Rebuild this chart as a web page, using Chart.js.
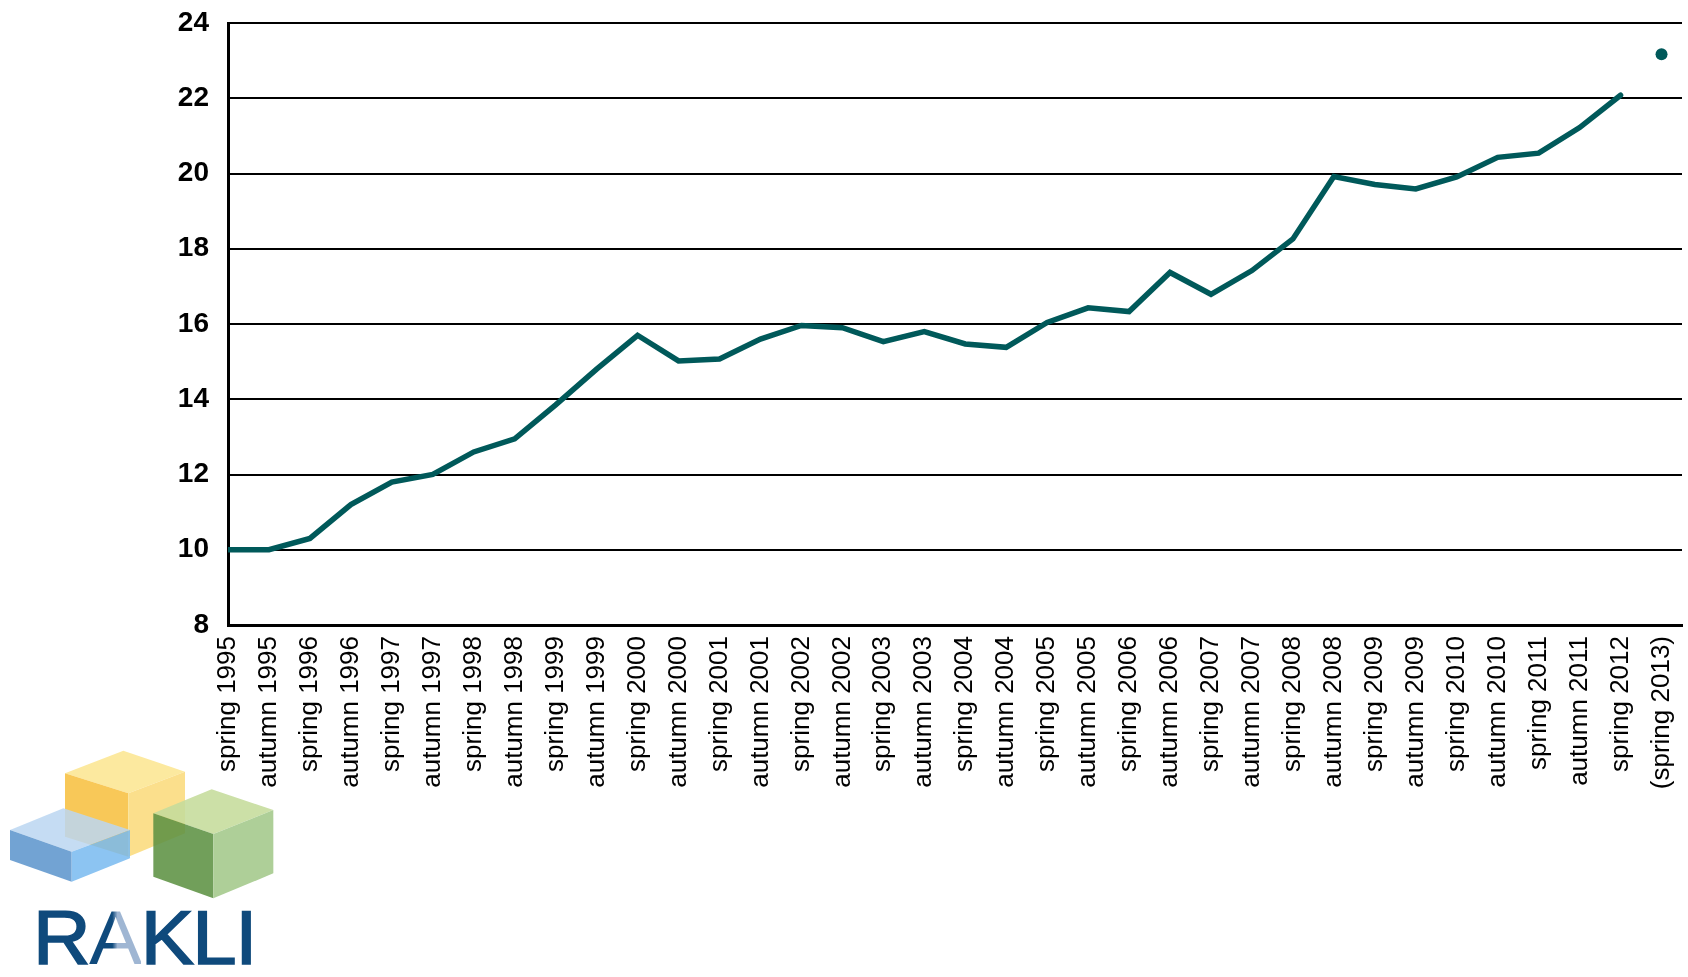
<!DOCTYPE html>
<html>
<head>
<meta charset="utf-8">
<script src="https://cdn.jsdelivr.net/npm/chart.js@4/dist/chart.umd.min.js"></script>
<style>
  html, body { margin: 0; padding: 0; background: #fff; }
  #wrap { position: relative; width: 1688px; height: 977px; overflow: hidden; }
  #logo { position: absolute; left: 0; top: 730px; width: 290px; height: 247px; z-index: 0; }
  #logoText { position: absolute; left: 33px; top: 900px; font-family: "Liberation Sans", Arial, sans-serif; font-size: 76px; line-height: 1; color: #0f4a7c; -webkit-text-stroke: 1.6px #0f4a7c; letter-spacing: -1.5px; transform: scaleX(1.05); transform-origin: left top; z-index: 0; }
  #logoText .a { background: linear-gradient(90deg, #0f4a7c 0%, #0f4a7c 45%, #9fb6d3 55%, #9fb6d3 100%); -webkit-background-clip: text; background-clip: text; color: transparent; -webkit-text-stroke: 0; }
  #c { position: absolute; left: 0; top: 0; z-index: 1; }
</style>
</head>
<body>
<div id="wrap">
  <svg id="logo" viewBox="0 0 870 741" xmlns="http://www.w3.org/2000/svg">
    <g opacity="0.95">
      <polygon points="195,130 370,62 555,125 385,190" fill="#fce89a"/>
      <polygon points="195,130 385,190 385,380 195,320" fill="#f8c650"/>
      <polygon points="385,190 555,125 555,310 385,380" fill="#fbde86"/>
    </g>
    <g opacity="0.85">
      <polygon points="30,300 190,235 390,300 215,365" fill="#bcd7f2"/>
      <polygon points="30,300 215,365 215,455 30,390" fill="#5a93cc"/>
      <polygon points="215,365 390,300 390,385 215,455" fill="#79baf0"/>
    </g>
    <g opacity="0.88">
      <polygon points="460,250 635,178 820,240 640,312" fill="#c5dc9c"/>
      <polygon points="460,250 640,312 640,505 460,440" fill="#5e9244"/>
      <polygon points="640,312 820,240 820,430 640,505" fill="#a3c98a"/>
    </g>
  </svg>
  <div id="logoText">R<span class="a">A</span>KLI</div>
  <canvas id="c" width="1688" height="977"></canvas>
</div>
<script>
const categories = [
  'spring 1995','autumn 1995','spring 1996','autumn 1996','spring 1997','autumn 1997',
  'spring 1998','autumn 1998','spring 1999','autumn 1999','spring 2000','autumn 2000',
  'spring 2001','autumn 2001','spring 2002','autumn 2002','spring 2003','autumn 2003',
  'spring 2004','autumn 2004','spring 2005','autumn 2005','spring 2006','autumn 2006',
  'spring 2007','autumn 2007','spring 2008','autumn 2008','spring 2009','autumn 2009',
  'spring 2010','autumn 2010','spring 2011','autumn 2011','spring 2012','(spring 2013)'
];
const values = [
  10.0, 10.0, 10.3, 11.2, 11.8, 12.0,
  12.6, 12.95, 13.85, 14.8, 15.7, 15.02,
  15.07, 15.6, 15.96, 15.9, 15.53, 15.8,
  15.47, 15.38, 16.04, 16.43, 16.33, 17.37,
  16.79, 17.42, 18.26, 19.92, 19.71, 19.59,
  19.91, 20.43, 20.54, 21.22, 22.08
];
const forecastLabel = '(spring 2013)';
const forecastValue = 23.17;
const yTicks = [8, 10, 12, 14, 16, 18, 20, 22, 24];

const lineColor = '#00595a';

const lineData = values.map((v, i) => ({ x: i, y: v }));
const dotData = [{ x: categories.indexOf(forecastLabel), y: forecastValue }];

new Chart(document.getElementById('c'), {
  type: 'line',
  data: {
    datasets: [
      {
        data: lineData,
        borderColor: lineColor,
        borderWidth: 5.5,
        pointRadius: 0,
        borderJoinStyle: 'miter',
        borderCapStyle: 'round',
        tension: 0,
        fill: false
      },
      {
        data: dotData,
        showLine: false,
        pointRadius: 6,
        pointBackgroundColor: lineColor,
        pointBorderWidth: 0,
        borderColor: lineColor
      }
    ]
  },
  options: {
    responsive: false,
    animation: false,
    devicePixelRatio: 1,
    layout: { padding: { top: 23, right: 0, bottom: 0, left: 0 } },
    plugins: { legend: { display: false }, tooltip: { enabled: false } },
    scales: {
      x: {
        type: 'linear',
        min: 0,
        max: categories.length - 0.5,
        afterFit: (s) => { s.height = 352; s.paddingLeft = 0; s.paddingRight = 0; },
        afterBuildTicks: (s) => { s.ticks = categories.map((_, i) => ({ value: i })); },
        grid: { display: false, drawTicks: false },
        border: { display: true, color: '#000', width: 3 },
        ticks: {
          autoSkip: false,
          maxRotation: 90,
          minRotation: 90,
          padding: 11,
          color: '#000',
          font: { family: '"Liberation Sans", Arial, sans-serif', size: 26 },
          callback: (v) => categories[v]
        }
      },
      y: {
        min: 8,
        max: 24,
        afterFit: (s) => { s.width = 228; s.paddingTop = 0; s.paddingBottom = 0; },
        afterBuildTicks: (s) => { s.ticks = yTicks.map(v => ({ value: v })); },
        grid: { color: '#000', lineWidth: 2, drawTicks: false },
        border: { display: true, color: '#000', width: 3 },
        ticks: {
          padding: 19,
          color: '#000',
          font: { family: '"Liberation Sans", Arial, sans-serif', size: 28, weight: 'bold' }
        }
      }
    }
  }
});
</script>
</body>
</html>
